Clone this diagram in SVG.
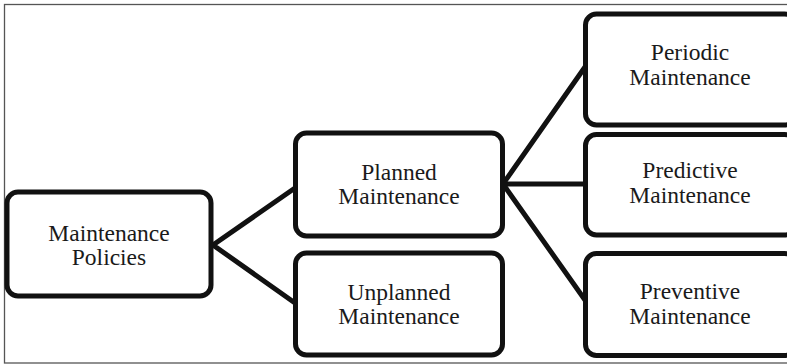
<svg xmlns="http://www.w3.org/2000/svg" width="787" height="364" viewBox="0 0 787 364">
<style>
.box{fill:#fff;stroke:#111;stroke-width:5}
.edge{fill:none;stroke:#111;stroke-width:5;stroke-linecap:butt}
text{font-family:'Liberation Serif','Times New Roman',Tinos,'DejaVu Serif',serif;font-size:23.5px;fill:#1a1a1a;text-anchor:middle}
</style>
<rect x="4.5" y="4.5" width="790" height="358.5" fill="#fff" stroke="#555" stroke-width="1.3"/>
<g id="connectors">
<polyline class="edge" points="295,188 213,245 295,303"/>
<line class="edge" x1="503" y1="184" x2="585" y2="184"/>
<polyline class="edge" points="585,67 503,184 585,300"/>
</g>
<g id="policies">
<rect class="box" x="7" y="192" width="204" height="104" rx="11"/>
<text x="109" y="240.5">Maintenance</text>
<text x="109" y="265">Policies</text>
</g>
<g id="planned">
<rect class="box" x="295.5" y="133" width="207" height="103" rx="11"/>
<text x="399" y="180">Planned</text>
<text x="399" y="204">Maintenance</text>
</g>
<g id="unplanned">
<rect class="box" x="295.5" y="253" width="207" height="102" rx="11"/>
<text x="399" y="300">Unplanned</text>
<text x="399" y="323.5">Maintenance</text>
</g>
<g id="periodic">
<rect class="box" x="585.5" y="14" width="210" height="111" rx="11"/>
<text x="690" y="60">Periodic</text>
<text x="690" y="85">Maintenance</text>
</g>
<g id="predictive">
<rect class="box" x="585.5" y="134.5" width="210" height="100.5" rx="11"/>
<text x="690" y="178">Predictive</text>
<text x="690" y="203">Maintenance</text>
</g>
<g id="preventive">
<rect class="box" x="585.5" y="253.5" width="210" height="102" rx="11"/>
<text x="690" y="298.5">Preventive</text>
<text x="690" y="323.5">Maintenance</text>
</g>
</svg>
